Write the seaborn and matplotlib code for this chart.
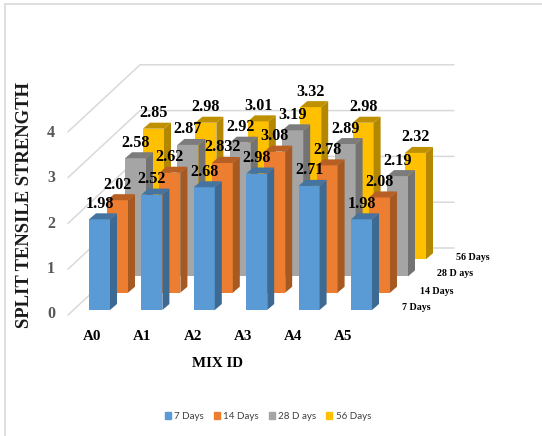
import matplotlib
matplotlib.use("Agg")
import matplotlib.pyplot as plt
from matplotlib.patches import Patch
from matplotlib.transforms import Affine2D, ScaledTranslation
import pandas as pd
import seaborn as sns

# Split tensile strength per mix and curing age
mix_ids = ["A0", "A1", "A2", "A3", "A4", "A5"]
days_7 = [1.98, 2.52, 2.68, 2.98, 2.71, 1.98]
days_14 = [2.02, 2.62, 2.832, 3.08, 2.78, 2.08]
days_28 = [2.58, 2.87, 2.92, 3.19, 2.89, 2.19]
days_56 = [2.85, 2.98, 3.01, 3.32, 2.98, 2.32]
series_names = ["7 Days", "14 Days", "28 D ays", "56 Days"]
y_ticks = [0, 1, 2, 3, 4]

front_colors = ["#5B9BD5", "#ED7D31", "#A5A5A5", "#FFC000"]
side_colors = ["#3D6A92", "#A65A22", "#737373", "#B38700"]
top_colors = ["#44749F", "#B85F24", "#7C7C7C", "#BF9000"]

W, H = 542, 436
DPI = 100
X0_PX, X_STEP_PX = 99.5, 52.4   # bar centre of the first mix, spacing between mixes
Y0_PX, Y_UNIT_PX = 310.0, 45.8  # baseline of the front row, pixels per unit
DEPTH_PX = [(0, 0), (18, 17.3), (36, 33.6), (54, 50.8)]
BAR_PX = 21.0
CAP_DX, CAP_DY = 7.0, 6.0

sns.set_theme(style="white")
serif = "Liberation Serif"

fig = plt.figure(figsize=(W / DPI, H / DPI), dpi=DPI, facecolor="white")
ax = fig.add_axes([0, 0, 1, 1])

df = pd.DataFrame({
    "mix": mix_ids * 4,
    "strength": days_7 + days_14 + days_28 + days_56,
    "series": [s for s in series_names for _ in mix_ids],
})
sns.barplot(
    data=df, x="mix", y="strength", hue="series",
    order=mix_ids, hue_order=series_names,
    palette=front_colors, dodge=False, saturation=1,
    width=BAR_PX / X_STEP_PX, errorbar=None, legend=False, ax=ax,
)
ax.set_xlim((0 - X0_PX) / X_STEP_PX, (W - X0_PX) / X_STEP_PX)
ax.set_ylim((Y0_PX - H) / Y_UNIT_PX, Y0_PX / Y_UNIT_PX)
ax.axis("off")

# Pixel space measured from the top-left corner, for the frame, walls and captions
px = Affine2D().scale(1, -1).translate(0, H)

# Outer frame
frame = "#D9D9D9"
ax.plot([5, 5], [4, H], color=frame, lw=1.2, transform=px, clip_on=False, zorder=1)
ax.plot([5, W], [4, 4], color=frame, lw=1.2, transform=px, clip_on=False, zorder=1)

# Gridlines on the side and back walls of the box
for tick in y_ticks:
    rise = tick * Y_UNIT_PX
    ax.plot([68, 140, 454], [315 - rise, 248 - rise, 248 - rise],
            color="#D9D9D9", lw=1.1, transform=px, zorder=1)

# Bars, their side and top faces, and value labels; the back row is drawn first
for depth, container in enumerate(ax.containers):
    dx, dy = DEPTH_PX[depth]
    shift = ax.transData + ScaledTranslation(dx / DPI, dy / DPI, fig.dpi_scale_trans)
    z = 10 - depth
    cap_x = CAP_DX / X_STEP_PX
    cap_y = CAP_DY / Y_UNIT_PX
    for bar in container:
        x0, x1 = bar.get_x(), bar.get_x() + bar.get_width()
        top = bar.get_height()
        bar.set_transform(shift)
        bar.set_zorder(z)
        bar.set_linewidth(0)
        ax.fill([x1, x1 + cap_x, x1 + cap_x, x1], [0, cap_y, top + cap_y, top],
                color=side_colors[depth], lw=0, transform=shift, zorder=z)
        ax.fill([x0, x1, x1 + cap_x, x0 + cap_x], [top, top, top + cap_y, top + cap_y],
                color=top_colors[depth], lw=0, transform=shift, zorder=z)
        ax.annotate(
            f"{top:g}", xy=((x0 + x1) / 2, top), xycoords=shift,
            xytext=(0, 15.5 * 72 / DPI), textcoords="offset points",
            ha="center", va="center", family=serif, weight="bold",
            fontsize=11.6, color="black", zorder=50,
        )

# Value axis captions
tick_label_y = [314, 269, 224, 178, 133]
for tick, y in zip(y_ticks, tick_label_y):
    ax.text(51, y, str(tick), transform=px, ha="center", va="center",
            family=serif, weight="bold", fontsize=11.5, color="#595959")

# Mix captions along the front edge
for i, name in enumerate(mix_ids):
    ax.text(92 + 50.3 * i, 336, name, transform=px, ha="center", va="center",
            family=serif, weight="bold", fontsize=10.8, color="black")

# Series captions along the depth axis
depth_labels = [(416, 307), (436.5, 291), (455, 273), (472.5, 257)]
for name, (x, y) in zip(series_names, depth_labels):
    ax.text(x, y, name, transform=px, ha="center", va="center",
            family=serif, weight="bold", fontsize=7.2, color="black")

ax.text(25, 204.5, "SPLIT TENSILE STRENGTH", transform=px, rotation=90,
        ha="center", va="center", family=serif, weight="bold",
        fontsize=13.4, color="#1A1A1A")
ax.text(217, 363, "MIX ID", transform=px, ha="center", va="center",
        family=serif, weight="bold", fontsize=10.8, color="black")

handles = [Patch(color=c, label=s) for c, s in zip(front_colors, series_names)]
ax.legend(
    handles=handles, ncol=4, frameon=False, loc="center",
    bbox_to_anchor=(268 / W, 1 - 416 / H), bbox_transform=fig.transFigure,
    prop={"family": "Lato", "size": 7}, labelcolor="#404040",
    handlelength=0.62, handleheight=0.7, handletextpad=0.36, columnspacing=1.0,
    borderpad=0,
)

fig.savefig("out.png", dpi=DPI)
